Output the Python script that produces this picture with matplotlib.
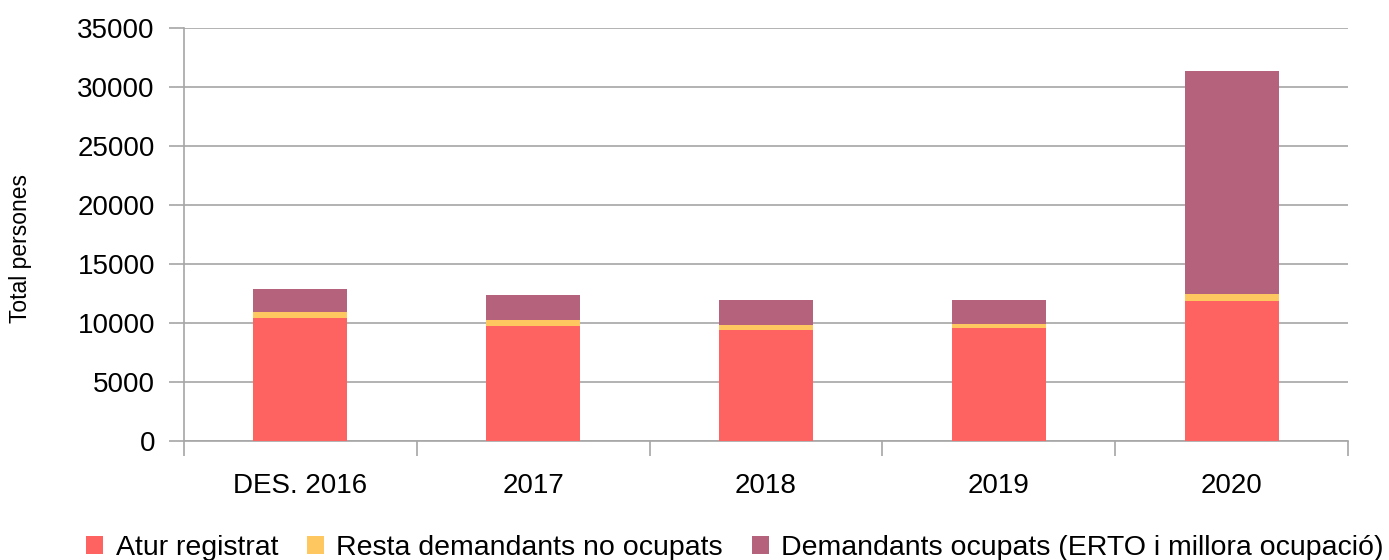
import matplotlib.pyplot as plt
import numpy as np

plt.rcParams['font.family'] = ['Liberation Sans', 'DejaVu Sans']

categories = ['DES. 2016', '2017', '2018', '2019', '2020']
atur = [10400, 9720, 9440, 9550, 11900]
resta = [500, 500, 360, 400, 600]
ocupats = [1950, 2115, 2115, 1970, 18850]

fig = plt.figure(figsize=(13.89, 5.6), dpi=100)
ax = fig.add_axes([0.1325, 0.2125, 0.838, 0.7375])

x = np.arange(len(categories))
w = 0.404
bottom2 = np.array(atur)
bottom3 = bottom2 + np.array(resta)
ax.bar(x, atur, w, color='#ff6361', label='Atur registrat', zorder=3)
ax.bar(x, resta, w, bottom=bottom2, color='#ffc75f', label='Resta demandants no ocupats', zorder=3)
ax.bar(x, ocupats, w, bottom=bottom3, color='#b5637c', label='Demandants ocupats (ERTO i millora ocupació)', zorder=3)

ax.set_xlim(-0.5, len(categories) - 0.5)
ax.set_ylim(0, 35000)
ax.set_yticks(range(0, 35001, 5000))
ax.set_xticks(x)
ax.set_xticklabels(categories)
ax.set_xticks(np.arange(-0.5, len(categories), 1), minor=True)
ax.tick_params(axis='x', which='major', length=0, pad=23, labelsize=20)
ax.tick_params(axis='x', which='minor', length=11, color='#a6a6a6', width=1.2)
ax.tick_params(axis='y', length=11, color='#a6a6a6', width=1.2, labelsize=20, pad=10)
ax.grid(axis='y', color='#a6a6a6', linewidth=1.2, zorder=0)
for s in ['top', 'right']:
    ax.spines[s].set_visible(False)
for s in ['left', 'bottom']:
    ax.spines[s].set_color('#a6a6a6')
    ax.spines[s].set_linewidth(1.2)

fig.text(0.0145, 0.557, 'Total persones', rotation=90, va='center', ha='center', fontsize=16.5)

fig.legend(loc='lower center', bbox_to_anchor=(0.529, -0.047), ncol=3, frameon=False,
           fontsize=20.5, handlelength=0.6, handleheight=0.6, handletextpad=0.45, columnspacing=1.0)

fig.savefig('out.png', dpi=100)
